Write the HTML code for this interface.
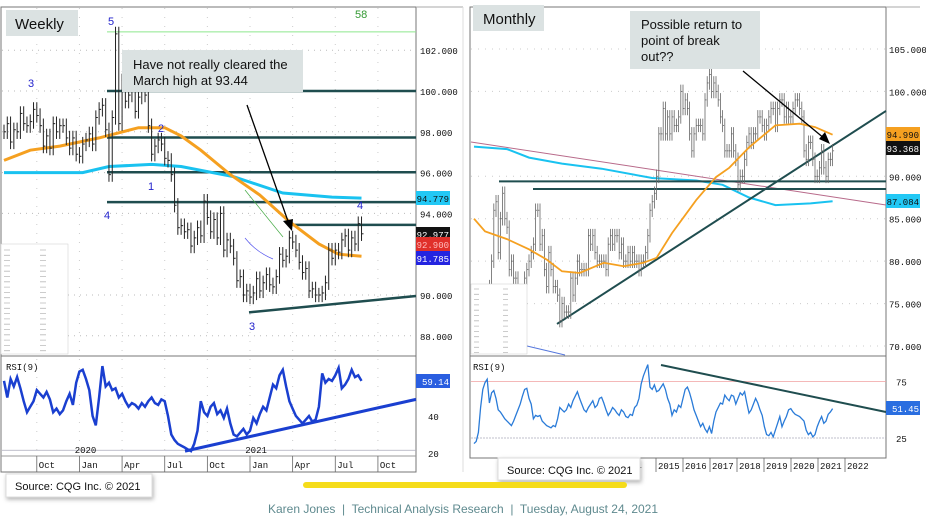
<!DOCTYPE html>
<html><head><meta charset="utf-8">
<style>
html,body{margin:0;padding:0;background:#fff;}
svg{display:block;font-family:"Liberation Sans",sans-serif;}
.ax{font-family:"Liberation Mono",monospace;font-size:9px;fill:#111;}
</style></head>
<body>
<svg id="root" width="926" height="522" viewBox="0 0 926 522" xmlns="http://www.w3.org/2000/svg">
  <rect x="0" y="0" width="926" height="522" fill="#fff"/>
  <g>
    <rect x="1" y="7" width="415" height="465" fill="#fff" stroke="#777" stroke-width="1"/>
    <line x1="1" y1="356" x2="416" y2="356" stroke="#777"/>
    <line x1="1" y1="456" x2="416" y2="456" stroke="#999"/>
    <line x1="416" y1="7" x2="463" y2="7" stroke="#aaa"/>
    <line x1="463" y1="7" x2="463" y2="472" stroke="#ddd"/>
    <g id="wk-grid"></g><g id="wk-marks"></g><g id="wk-axis"></g>
  </g>
  <g>
    <rect x="470" y="7" width="416" height="451" fill="#fff" stroke="#777" stroke-width="1"/>
    <line x1="470" y1="356" x2="886" y2="356" stroke="#777"/>
    <line x1="886" y1="7" x2="920" y2="7" stroke="#aaa"/>
    <g id="mo-grid"></g><g id="mo-marks"></g><g id="mo-axis"></g>
  </g>
  <rect x="6" y="10" width="72" height="26" fill="#dbe2e2"/>
  <text x="15" y="29" font-size="15" fill="#111">Weekly</text>
  <rect x="122" y="50" width="181" height="42" fill="#dbe2e2"/>
  <text x="133" y="69" font-size="13" fill="#111"><tspan x="133">Have not really cleared the</tspan><tspan x="133" dy="16">March high at 93.44</tspan></text>
  <rect x="473" y="5" width="71" height="26" fill="#dbe2e2"/>
  <text x="483" y="24" font-size="15" fill="#111">Monthly</text>
  <rect x="630" y="11" width="130" height="58" fill="#dbe2e2"/>
  <text x="641" y="29" font-size="13" fill="#111"><tspan x="641">Possible return to</tspan><tspan x="641" dy="16">point of break</tspan><tspan x="641" dy="16">out??</tspan></text>
  <rect x="6" y="474" width="146" height="23" fill="#fff" stroke="#ddd" style="filter:drop-shadow(1px 2px 2px rgba(0,0,0,.3))"/>
  <text x="15" y="490" font-size="11" fill="#111">Source: CQG Inc. © 2021</text>
  <rect x="498" y="458" width="142" height="22" fill="#fff" stroke="#ddd" style="filter:drop-shadow(1px 2px 2px rgba(0,0,0,.3))"/>
  <text x="507" y="474" font-size="11" fill="#111">Source: CQG Inc. © 2021</text>
  <rect x="303" y="482" width="324" height="6" rx="3" fill="#f5dc1a"/>
  <text x="463" y="513" font-size="12" fill="#5f8a8f" text-anchor="middle" xml:space="preserve">Karen Jones  |  Technical Analysis Research  |  Tuesday, August 24, 2021</text>
</svg>
<script>
// ---------------- WEEKLY DATA ----------------
const wkCloses = [98.0,98.4,97.5,98.1,98.0,98.9,98.4,98.3,98.5,99.1,98.8,98.3,97.3,97.8,97.2,98.4,98.0,98.3,98.3,97.7,97.2,97.7,96.9,96.8,
97.4,97.6,97.9,97.4,98.7,99.1,99.3,98.1,95.9,98.7,102.8,98.4,100.5,99.5,99.8,100.4,99.0,99.7,100.3,99.8,98.3,96.9,97.3,97.6,97.4,96.7,96.6,95.9,94.4,93.3,93.4,93.1,93.2,92.4,92.8,93.3,92.9,94.6,93.8,93.1,93.7,92.8,94.0,92.2,92.7,92.4,91.8,90.7,90.9,90.0,90.2,89.9,
90.1,90.8,90.2,90.6,91.0,90.5,90.4,90.9,92.0,91.7,91.9,92.8,92.6,92.2,91.6,91.1,91.3,90.2,90.3,90.0,90.0,90.1,90.6,92.2,91.8,92.2,92.1,92.7,92.9,92.2,92.8,92.5,93.5,93.0];
const wkRsi = [59,50,60,56,61,55,48,42,45,48,54,52,50,53,49,42,44,41,43,48,52,46,58,64,65,60,54,40,35,50,67,56,58,54,55,50,52,48,45,47,46,44,47,45,48,50,47,46,49,48,40,30,27,25,24,23,22,21,25,32,48,42,40,45,47,41,43,39,44,36,30,29,31,33,30,32,39,36,41,45,43,50,57,55,62,65,56,48,44,40,38,36,38,40,37,38,45,63,58,60,59,62,66,55,57,60,65,61,62,59];
const wkMa55Idx = [0,8,17,29,41,49,54,60,69,78,87,96,102,109];
const wkMa55Val = [96.6,97.1,97.3,97.7,98.2,98.2,97.8,97.1,95.9,94.9,93.6,92.5,92.0,91.9];
const wkMa200Idx = [0,24,32,45,54,70,85,100,109];
const wkMa200Val = [96.0,96.0,96.3,96.4,96.3,95.8,95.0,94.8,94.75];
const wkPriceTicks = [88,90,94,96,98,100,102];
const wkRsiTicks = [20,40];
const wkLevels = [100,97.72,96.02,94.55];
const wkDateLabels = ["Oct","Jan","Apr","Jul","Oct","Jan","Apr","Jul","Oct"];
const wkDateIdx = [10,23,36,49,62,75,88,101,114];

// ---------------- MONTHLY DATA ----------------
const moCloses = [76,75,72,72,73,73,72,77,80,86,87,81, 85,88,85,84,79,80,78,78,76,76,75,78, 79,80,81,82,86,86,82,83,79,77,81,79,
77,77,76,73,75,74,74,74,78,76,78,80, 79,79,79,79,83,82,83,81,80,80,80,80, 79,82,83,82,83,83,81,82,80,80,81,80,
81,80,80,79,80,80,81,83,86,87,88,90, 95,95,98,95,97,95,97,96,96,97,100,98, 99,98,95,93,95,96,96,96,95,99,101,102,
100,101,100,99,97,96,93,93,93,95,93,92, 89,90,90,92,94,95,94,95,95,97,97,96, 95,96,97,98,98,96,98,99,99,97,98,97,
97,98,99,99,98,97,93,92,94,94,92,90, 90,91,93,91,90,92,92,93];
const moRsi = [20,22,30,52,68,74,77,56,65,67,60,50,48,45,42,40,38,36,40,45,50,55,62,68,69,60,55,42,45,44,45,40,38,36,35,34,36,35,42,52,
50,48,50,55,52,58,62,66,60,55,50,48,52,55,58,52,54,60,61,56,50,45,48,52,50,47,45,50,48,44,43,46,45,52,54,60,73,80,85,90,
70,68,72,66,67,70,73,68,60,55,45,50,48,54,52,60,68,70,65,58,50,45,40,35,38,33,30,35,29,40,48,52,56,55,63,60,58,63,62,55,
60,65,63,66,56,47,50,55,60,56,50,45,35,28,27,30,26,32,38,44,35,40,44,50,51,48,46,45,44,42,40,32,28,30,26,28,35,40,44,38,40,46,48,51];
const moMaIdx = [0,5,15,25,33,40,48,59,68,77,83,90,101,110,116,125,137,148,155,163];
const moMaVal = [85.0,83.5,82.6,81.4,80.2,78.8,78.6,79.8,79.4,79.8,80.4,83.3,87.2,89.9,91.0,93.4,96.0,96.2,95.8,94.9];
const moLongIdx = [0,15,25,40,58,81,101,113,125,137,153,163];
const moLongVal = [93.5,93.2,92.2,91.5,90.9,89.8,89.5,89.0,87.5,86.6,86.8,87.05];
const moPriceTicks = [70,75,80,85,90,100,105];
const moRsiTicks = [25,75];
const moYears = ["14","2015","2016","2017","2018","2019","2020","2021","2022"];
const moYearX = [629,656,683,710,737,764,791,818,845];

// ---------------- SCALES ----------------
const NS = "http://www.w3.org/2000/svg";
function el(tag, attrs, parent){ const e=document.createElementNS(NS,tag); for(const k in attrs) e.setAttribute(k,attrs[k]); parent.appendChild(e); return e; }
const wX = i => 4 + i*3.28;
const wY = p => 91 + (100-p)*20.4;
const wR = v => 416 - (v-40)*1.85;
const mX = i => 474 + i*2.2;
const mY = p => 49 + (105-p)*8.486;
const mR = v => 438 - (v-25)*1.13;
function pts(idx, vals, fx, fy){ return idx.map((i,k)=>fx(i).toFixed(1)+","+fy(vals[k]).toFixed(1)).join(" "); }

// ---------------- WEEKLY ----------------
const wg = document.getElementById("wk-grid"), wm = document.getElementById("wk-marks"), wa = document.getElementById("wk-axis");
wkPriceTicks.forEach(t=>{
  const l = el("line",{x1:2,x2:416,y1:wY(t),y2:wY(t),stroke:"#bbb","stroke-dasharray":"1,5"},wg);
  
  
  const tx = el("text",{x:420,y:wY(t)+4,class:"ax"},wa); tx.textContent=t.toFixed(3);
  
  
});
wkRsiTicks.forEach(t=>{
  const tx = el("text",{x:428,y:wR(t)+4,class:"ax","font-size":"10"},wa); tx.textContent=t;
  
  
});
el("line",{x1:2,x2:416,y1:wR(21.5),y2:wR(21.5),stroke:"#aab","stroke-width":0.7},wg);
wkDateLabels.forEach((s,k)=>{
  const x = wX(wkDateIdx[k]);
  el("line",{x1:x,x2:x,y1:456,y2:472,stroke:"#666","stroke-width":0.8},wa);
  el("line",{x1:x,x2:x,y1:8,y2:456,stroke:"#ccc","stroke-dasharray":"1,8"},wg);
  const tx = el("text",{x:x+2,y:468,class:"ax"},wa); tx.textContent=s;
  
  
});
[["2020",24],["2021",76]].forEach(a=>{const t=el("text",{x:wX(a[1])-8,y:453,class:"ax"},wa);t.textContent=a[0];});
el("line",{x1:107,x2:416,y1:wY(102.9),y2:wY(102.9),stroke:"#8ee88e","stroke-width":1},wm);
wkLevels.forEach(v=>{
  const l=el("line",{x1:107,x2:416,y1:wY(v),y2:wY(v),stroke:"#1f4d4f","stroke-width":2.5},wm);
  
  
});
el("line",{x1:290,x2:416,y1:wY(93.44),y2:wY(93.44),stroke:"#1f4d4f","stroke-width":2.5},wm);
el("line",{x1:249,x2:416,y1:wY(89.15),y2:wY(89.95),stroke:"#1f4d4f","stroke-width":2.5},wm);
const wma2 = el("polyline",{points:pts(wkMa200Idx,wkMa200Val,wX,wY),fill:"none",stroke:"#19c2f0","stroke-width":3},wm);


const wma = el("polyline",{points:pts(wkMa55Idx,wkMa55Val,wX,wY),fill:"none",stroke:"#f5a020","stroke-width":3},wm);


el("path",{d:"M245,190 Q265,215 283,237",stroke:"#4a4",fill:"none","stroke-width":0.7},wm);
el("path",{d:"M245,238 Q256,252 273,259",stroke:"#55e",fill:"none","stroke-width":0.7},wm);
wkCloses.forEach((c,i)=>{
  const o = i>0 ? wkCloses[i-1] : c;
  const hi = Math.max(o,c)+0.35, lo = Math.min(o,c)-0.35, x = wX(i);
  const b = el("line",{x1:x,x2:x,y1:wY(hi),y2:wY(lo),stroke:"#222","stroke-width":1},wm);
  
  
  el("line",{x1:x,x2:x+2,y1:wY(c),y2:wY(c),stroke:"#222","stroke-width":1},wm);
});
el("line",{x1:247,y1:105,x2:289,y2:224,stroke:"#000","stroke-width":1.3},wm);
el("polygon",{points:"292,231 283,221 293,219",fill:"#000"},wm);
const wr = el("polyline",{points:wkRsi.map((v,i)=>wX(i).toFixed(1)+","+wR(v).toFixed(1)).join(" "),fill:"none",stroke:"#1a3fd0","stroke-width":2.5},wm);


el("line",{x1:185,y1:wR(21),x2:416,y2:wR(49),stroke:"#1a3fd0","stroke-width":3},wm);
const rl = el("text",{x:6,y:370,class:"ax"},wa); rl.textContent="RSI(9)";
[["5",108,25,"#22c"],["3",28,87,"#22c"],["2",158,132,"#22c"],["1",148,190,"#22c"],["4",104,219,"#22c"],["3",249,330,"#22c"],["58",355,18,"#393"],["4",357,209,"#22c"]].forEach(a=>{
  const t=el("text",{x:a[1],y:a[2],"font-size":"11",fill:a[3]},wm);t.textContent=a[0];
});
function vbox(g,x,y,w,bg,fg,txt,name){
  const r=el("rect",{x:x,y:y-7,width:w,height:14,fill:bg},g);
  
  
  const t=el("text",{x:x+w-1,y:y+4,class:"ax","text-anchor":"end"},g); t.textContent=txt; t.style.fill=fg;
}
vbox(wa,416,198,34,"#22c8f5","#111","94.779","weekly-ma200-value");
vbox(wa,416,234,34,"#111","#fff","92.977","weekly-last-value");
vbox(wa,416,244,34,"#e0302a","#fbb","92.900","weekly-red-value");
vbox(wa,416,258,34,"#2424e0","#fff","91.785","weekly-ma55-value");
vbox(wa,416,381,34,"#2a5ee0","#fff","59.14","weekly-rsi-value");
el("rect",{x:1,y:244,width:67,height:110,fill:"#fff",stroke:"#ccc","stroke-width":0.5},wa);
for(let k=0;k<20;k++){ el("line",{x1:4,x2:64,y1:250+k*5.3,y2:250+k*5.3,stroke:"#bbb","stroke-width":0.8,"stroke-dasharray":"6,30"},wa); }

// ---------------- MONTHLY ----------------
const mg = document.getElementById("mo-grid"), mm = document.getElementById("mo-marks"), ma = document.getElementById("mo-axis");
moPriceTicks.forEach(t=>{
  el("line",{x1:471,x2:886,y1:mY(t),y2:mY(t),stroke:"#ccc","stroke-dasharray":"1,6"},mg);
  const tx=el("text",{x:889,y:mY(t)+4,class:"ax"},ma); tx.textContent=t.toFixed(3);
  
  
});
moRsiTicks.forEach(t=>{
  const tx=el("text",{x:896,y:mR(t)+4,class:"ax","font-size":"10"},ma); tx.textContent=t;
  
  
});
el("line",{x1:471,x2:886,y1:mR(75),y2:mR(75),stroke:"#f0a0a0","stroke-width":0.8},mg);
el("line",{x1:471,x2:886,y1:mR(25),y2:mR(25),stroke:"#aab","stroke-width":0.8,"stroke-dasharray":"2,1"},mg);
moYears.forEach((s,k)=>{
  const x=moYearX[k];
  el("line",{x1:x,x2:x,y1:458,y2:472,stroke:"#666","stroke-width":0.8},ma);
  const tx=el("text",{x:x+2,y:469,class:"ax"},ma); tx.textContent=s;
  
  
});
el("line",{x1:471,y1:142,x2:886,y2:205,stroke:"#b86a8a","stroke-width":1},mm);
const ml = el("polyline",{points:pts(moLongIdx,moLongVal,mX,mY),fill:"none",stroke:"#19c2f0","stroke-width":2},mm);


el("line",{x1:499,x2:886,y1:mY(89.4),y2:mY(89.4),stroke:"#1f4d4f","stroke-width":2},mm);
el("line",{x1:533,x2:886,y1:mY(88.5),y2:mY(88.5),stroke:"#1f4d4f","stroke-width":2},mm);
el("line",{x1:557,y1:mY(72.6),x2:886,y2:mY(97.7),stroke:"#1f4d4f","stroke-width":2},mm);
moCloses.forEach((c,i)=>{
  const o = i>0 ? moCloses[i-1] : c;
  const hi=Math.max(o,c)+0.8, lo=Math.min(o,c)-0.8, x=mX(i);
  const b=el("line",{x1:x,x2:x,y1:mY(hi),y2:mY(lo),stroke:"#666","stroke-width":0.8},mm);
  
  
  el("line",{x1:x,x2:x+1.5,y1:mY(c),y2:mY(c),stroke:"#666","stroke-width":0.8},mm);
});
const mma=el("polyline",{points:pts(moMaIdx,moMaVal,mX,mY),fill:"none",stroke:"#f5a020","stroke-width":1.8},mm);


el("line",{x1:743,y1:71,x2:825,y2:139,stroke:"#000","stroke-width":1.3},mm);
el("polygon",{points:"830,144 819,139 825,132",fill:"#000"},mm);
const mr=el("polyline",{points:moRsi.map((v,i)=>mX(i).toFixed(1)+","+mR(v).toFixed(1)).join(" "),fill:"none",stroke:"#2a7bd8","stroke-width":1.3},mm);


el("line",{x1:661,y1:365,x2:886,y2:412,stroke:"#1f4d4f","stroke-width":2},mm);
el("line",{x1:527,y1:346,x2:565,y2:355,stroke:"#5577dd","stroke-width":1},mm);
const mrl=el("text",{x:473,y:370,class:"ax"},ma); mrl.textContent="RSI(9)";
el("rect",{x:471,y:284,width:56,height:70,fill:"#fff",stroke:"#ccc","stroke-width":0.5},ma);
for(let k=0;k<13;k++){ el("line",{x1:474,x2:524,y1:289+k*5.3,y2:289+k*5.3,stroke:"#bbb","stroke-width":0.8,"stroke-dasharray":"5,24"},ma); }
vbox(ma,886,134,34,"#f5a020","#111","94.990","monthly-ma-value");
vbox(ma,886,148,34,"#111","#fff","93.368","monthly-last-value");
vbox(ma,886,201,34,"#22c8f5","#111","87.084","monthly-long-ma-value");
vbox(ma,886,408,34,"#2a6ee0","#fff","51.45","monthly-rsi-value");
</script>
</body></html>
